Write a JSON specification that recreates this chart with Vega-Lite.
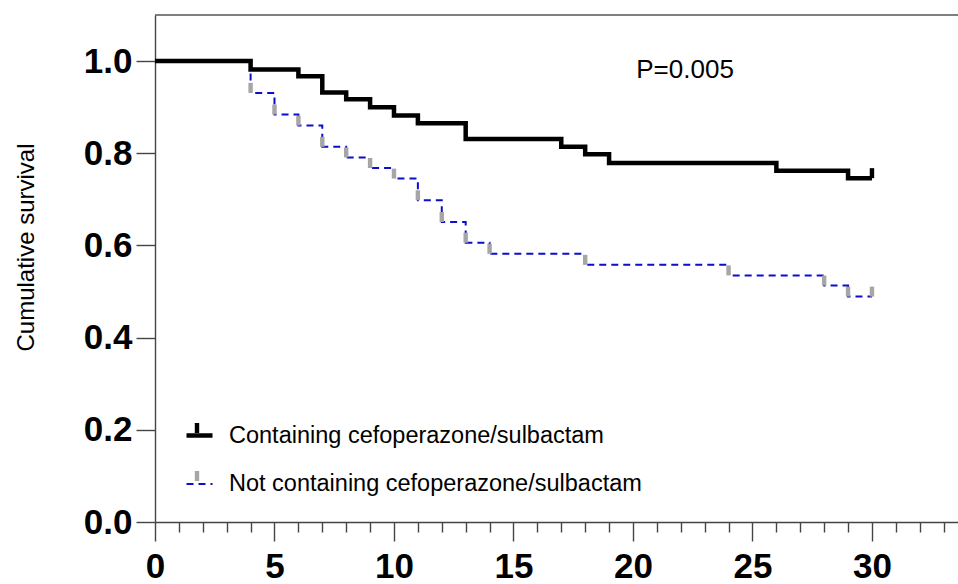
{
  "$schema": "https://vega.github.io/schema/vega-lite/v6.json",
  "autosize": "none",
  "width": 803,
  "height": 507,
  "padding": {"left": 155, "top": 15, "right": 0, "bottom": 62},
  "data": {
    "values": [
      {"time": 0, "surv": 1.0, "group": "Not containing cefoperazone/sulbactam", "censored": false},
      {"time": 4, "surv": 0.931, "group": "Not containing cefoperazone/sulbactam", "censored": true},
      {"time": 5, "surv": 0.884, "group": "Not containing cefoperazone/sulbactam", "censored": true},
      {"time": 6, "surv": 0.86, "group": "Not containing cefoperazone/sulbactam", "censored": true},
      {"time": 7, "surv": 0.814, "group": "Not containing cefoperazone/sulbactam", "censored": true},
      {"time": 8, "surv": 0.791, "group": "Not containing cefoperazone/sulbactam", "censored": true},
      {"time": 9, "surv": 0.768, "group": "Not containing cefoperazone/sulbactam", "censored": true},
      {"time": 10, "surv": 0.745, "group": "Not containing cefoperazone/sulbactam", "censored": true},
      {"time": 11, "surv": 0.698, "group": "Not containing cefoperazone/sulbactam", "censored": true},
      {"time": 12, "surv": 0.651, "group": "Not containing cefoperazone/sulbactam", "censored": true},
      {"time": 13, "surv": 0.606, "group": "Not containing cefoperazone/sulbactam", "censored": true},
      {"time": 14, "surv": 0.582, "group": "Not containing cefoperazone/sulbactam", "censored": true},
      {"time": 18, "surv": 0.558, "group": "Not containing cefoperazone/sulbactam", "censored": true},
      {"time": 24, "surv": 0.535, "group": "Not containing cefoperazone/sulbactam", "censored": true},
      {"time": 28, "surv": 0.513, "group": "Not containing cefoperazone/sulbactam", "censored": true},
      {"time": 29, "surv": 0.489, "group": "Not containing cefoperazone/sulbactam", "censored": true},
      {"time": 30, "surv": 0.489, "group": "Not containing cefoperazone/sulbactam", "censored": true},

      {"time": 0, "surv": 1.0, "group": "Containing cefoperazone/sulbactam", "censored": false},
      {"time": 4, "surv": 0.982, "group": "Containing cefoperazone/sulbactam", "censored": false},
      {"time": 6, "surv": 0.967, "group": "Containing cefoperazone/sulbactam", "censored": false},
      {"time": 7, "surv": 0.932, "group": "Containing cefoperazone/sulbactam", "censored": false},
      {"time": 8, "surv": 0.917, "group": "Containing cefoperazone/sulbactam", "censored": false},
      {"time": 9, "surv": 0.9, "group": "Containing cefoperazone/sulbactam", "censored": false},
      {"time": 10, "surv": 0.882, "group": "Containing cefoperazone/sulbactam", "censored": false},
      {"time": 11, "surv": 0.865, "group": "Containing cefoperazone/sulbactam", "censored": false},
      {"time": 13, "surv": 0.831, "group": "Containing cefoperazone/sulbactam", "censored": false},
      {"time": 17, "surv": 0.814, "group": "Containing cefoperazone/sulbactam", "censored": false},
      {"time": 18, "surv": 0.798, "group": "Containing cefoperazone/sulbactam", "censored": false},
      {"time": 19, "surv": 0.779, "group": "Containing cefoperazone/sulbactam", "censored": false},
      {"time": 26, "surv": 0.762, "group": "Containing cefoperazone/sulbactam", "censored": false},
      {"time": 29, "surv": 0.746, "group": "Containing cefoperazone/sulbactam", "censored": false},
      {"time": 30, "surv": 0.746, "group": "Containing cefoperazone/sulbactam", "censored": true}
    ]
  },
  "encoding": {
    "x": {
      "field": "time",
      "type": "quantitative",
      "scale": {"domain": [0, 33.6], "nice": false, "zero": false},
      "axis": {
        "title": null,
        "values": [0, 1, 2, 3, 4, 5, 6, 7, 8, 9, 10, 11, 12, 13, 14, 15, 16, 17, 18, 19, 20, 21, 22, 23, 24, 25, 26, 27, 28, 29, 30, 31, 32, 33],
        "labelExpr": "datum.value % 5 === 0 ? datum.label : ''",
        "tickSize": {"condition": {"test": "datum.value % 5 === 0", "value": 19}, "value": 10},
        "labelPadding": 8,
        "labelFlush": false,
        "labelOverlap": false
      }
    },
    "y": {
      "field": "surv",
      "type": "quantitative",
      "scale": {"domain": [0, 1.1], "nice": false},
      "axis": {
        "title": "Cumulative survival",
        "values": [0, 0.2, 0.4, 0.6, 0.8, 1.0],
        "format": ".1f",
        "tickSize": 19,
        "labelPadding": 4,
        "labelFlush": false,
        "labelOverlap": false,
        "titleX": -122,
        "titleY": 232,
        "titleAngle": -90,
        "titleAlign": "center",
        "titleBaseline": "alphabetic"
      }
    }
  },
  "layer": [
    {
      "data": {"values": [{"top": 1.1}]},
      "mark": {"type": "rule", "color": "#555555", "strokeWidth": 1.5},
      "encoding": {"x": null, "y": {"field": "top", "type": "quantitative"}}
    },
    {
      "mark": {"type": "line", "interpolate": "step-after", "strokeCap": "butt"},
      "encoding": {
        "stroke": {
          "field": "group",
          "type": "nominal",
          "scale": {"range": ["#000000", "#0d0dcc"]},
          "legend": {
            "orient": "none",
            "legendX": 29,
            "legendY": 405,
            "title": null,
            "padding": 0,
            "symbolType": "M-1,0H1",
            "symbolSize": 676,
            "symbolFillColor": "transparent",
            "labelFont": "Liberation Sans",
            "labelFontSize": 23.5,
            "labelColor": "#000000",
            "labelOffset": 14,
            "labelLimit": 700,
            "rowPadding": 23
          }
        },
        "strokeDash": {
          "field": "group",
          "type": "nominal",
          "scale": {"range": [[1, 0], [7, 5]]}
        },
        "strokeWidth": {
          "field": "group",
          "type": "nominal",
          "scale": {"range": [4.5, 2]}
        }
      }
    },
    {
      "transform": [{"filter": "datum.censored"}],
      "mark": {
        "type": "point",
        "filled": true,
        "opacity": 1,
        "size": 676,
        "shape": "M-0.17,-0.77H0.17V0H-0.17Z"
      },
      "encoding": {
        "fill": {
          "field": "group",
          "type": "nominal",
          "scale": {"range": ["#000000", "#a6a6a6"]},
          "legend": {
            "orient": "none",
            "legendX": 29,
            "legendY": 405,
            "title": null,
            "padding": 0,
            "symbolType": "M-0.17,-0.77H0.17V0H-0.17Z",
            "symbolSize": 676,
            "symbolStrokeWidth": 0,
            "symbolOpacity": 1,
            "labelExpr": "''",
            "labelFontSize": 23.5,
            "labelOffset": 14,
            "rowPadding": 23
          }
        }
      }
    },
    {
      "data": {"values": [{"label": "P=0.005", "time": 22.18, "surv": 0.963}]},
      "mark": {"type": "text", "font": "Liberation Sans", "fontSize": 26, "color": "#000000", "align": "center", "baseline": "alphabetic"},
      "encoding": {
        "text": {"field": "label", "type": "nominal"}
      }
    }
  ],
  "config": {
    "view": {"stroke": null},
    "axis": {
      "grid": false,
      "domainColor": "#444444",
      "domainWidth": 1.4,
      "tickColor": "#444444",
      "tickWidth": 1.4,
      "labelFont": "Liberation Sans",
      "labelFontSize": 35,
      "labelFontWeight": "bold",
      "labelColor": "#000000",
      "titleFont": "Liberation Sans",
      "titleFontSize": 24,
      "titleFontWeight": "normal",
      "titleColor": "#000000"
    }
  }
}
